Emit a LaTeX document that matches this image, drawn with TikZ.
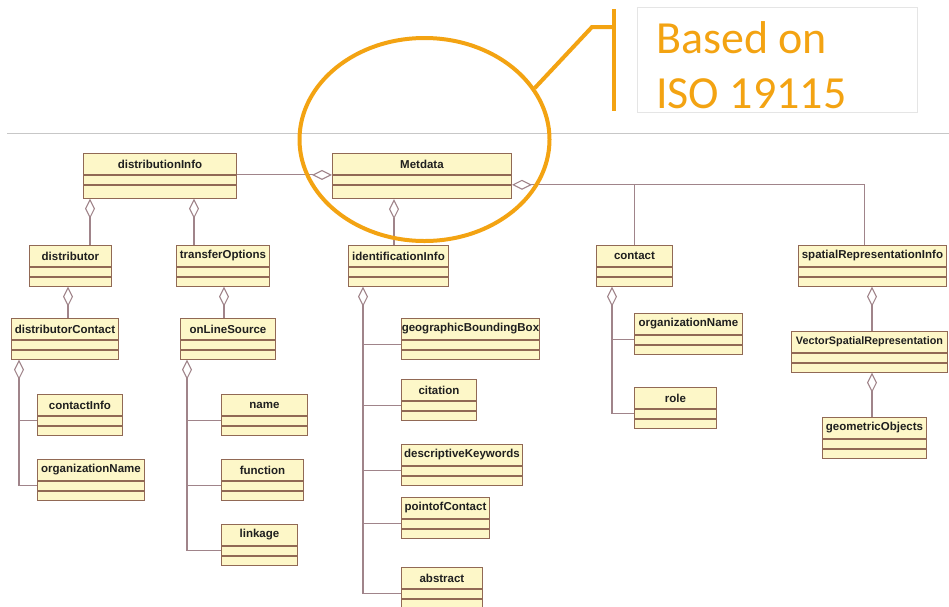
\documentclass[tikz,border=0pt]{standalone}
\usepackage{fontspec}
\setmainfont{Liberation Sans}
\newfontfamily\notefont{Carlito}
\usetikzlibrary{arrows.meta}
\usetikzlibrary{shapes.geometric}
\definecolor{clsfill}{RGB}{253,247,200}
\definecolor{clsline}{RGB}{145,105,85}
\definecolor{linkline}{RGB}{160,132,138}
\definecolor{isoorange}{RGB}{243,163,18}
\tikzset{cls/.style={draw=clsline,fill=clsfill,line width=0.9pt,inner sep=0pt,minimum height=21,text=black!88,font=\fontsize{11.5}{11.5}\selectfont\bfseries}}
\tikzset{clspart/.style={draw=clsline,fill=clsfill,line width=0.9pt,inner sep=0pt,minimum height=9}}
\tikzset{lnk/.style={draw=linkline,line width=1.1pt}}
\tikzset{agg/.style={lnk,{Diamond[open,length=20pt,width=10pt]}-}}
\tikzset{hlring/.style={draw=isoorange,line width=4pt,ellipse,inner sep=0pt}}
\tikzset{isotext/.style={font=\notefont\fontsize{46}{46}\selectfont,text=isoorange,inner sep=0pt,anchor=base west}}

% class box: [height of last part]{name}{left}{top}{right}{title}
\newcommand{\umlclass}[6][9]{%
  \node[cls,anchor=north west,minimum width=#5-#3] (#2) at (#3,#4) {#6};
  \node[clspart,anchor=north,minimum width=#5-#3] (#2-a) at (#2.south) {};
  \node[clspart,anchor=north,minimum width=#5-#3,minimum height=#1] (#2-b) at (#2-a.south) {};}

\begin{document}
\begin{tikzpicture}[x=1pt,y=-1pt]
  \useasboundingbox (0,0) rectangle (949,606);
  \clip (0,0) rectangle (949,606);
  \draw[black!22,line width=0.8pt] (7,133) -- (949,133);

  \umlclass[13]{dinfo}{83}{153}{236}{distributionInfo}
  \umlclass[13.5]{meta}{332}{153}{511}{Metdata}
  \umlclass{distr}{29}{245}{111}{distributor}
  \umlclass{transf}{176}{245}{269}{transferOptions}
  \umlclass{ident}{348}{245}{448}{identificationInfo}
  \umlclass{contact}{596}{245}{672}{contact}
  \umlclass{spatial}{798}{245}{946}{spatialRepresentationInfo}
  \umlclass{dcontact}{11}{318}{118}{distributorContact}
  \umlclass{online}{180}{318}{275}{onLineSource}
  \umlclass{geobb}{401}{318}{539}{geographicBoundingBox}
  \umlclass{orgr}{634}{313}{742}{organizationName}
  \umlclass{vsr}{791}{331}{947}{\fontsize{10.8}{10.8}\selectfont VectorSpatialRepresentation}
  \umlclass{cinfo}{37}{394}{122}{contactInfo}
  \umlclass{orgl}{37}{459}{144}{organizationName}
  \umlclass{oname}{221}{394}{307}{name}
  \umlclass{func}{221}{459}{303}{function}
  \umlclass{link}{221}{524}{297}{linkage}
  \umlclass{cit}{401}{379}{476}{citation}
  \umlclass{desc}{401}{444}{522}{descriptiveKeywords}
  \umlclass{poc}{401}{497}{489}{pointofContact}
  \umlclass{abs}{401}{567}{482}{abstract}
  \umlclass{role}{634}{387}{716}{role}
  \umlclass{geom}{822}{417}{926}{geometricObjects}

  % links at Metdata
  \draw[agg] (meta.south west) -- (dinfo.south east);
  \coordinate (sp-in) at ([xshift=-8pt]spatial.north);
  \draw[agg] (meta-a.south east) -| (sp-in);
  \draw[lnk] (contact.north) -- (contact.north |- meta-a.south east);

  \foreach \pa/\ch/\dx in {dinfo/distr/7,dinfo/transf/111,meta/ident/62,distr/dcontact/39,transf/online/48,spatial/vsr/74,vsr/geom/81}{
    \coordinate (d) at ([xshift=\dx pt]\pa-b.south west);
    \draw[agg] (d) -- (d |- \ch.north);
  }

  % trees
  \coordinate (dc-t) at ([xshift=8pt]dcontact-b.south west);
  \draw[agg] (dc-t) -- (dc-t |- orgl-a.west);
  \foreach \c in {cinfo,orgl} \draw[lnk] (dc-t |- \c-a.west) -- (\c-a.west);

  \coordinate (ol-t) at ([xshift=7pt]online-b.south west);
  \draw[agg] (ol-t) -- (ol-t |- link-a.west);
  \foreach \c in {oname,func,link} \draw[lnk] (ol-t |- \c-a.west) -- (\c-a.west);

  \coordinate (id-t) at ([xshift=15pt]ident-b.south west);
  \draw[agg] (id-t) -- (id-t |- abs-a.west);
  \foreach \c in {geobb,cit,desc,poc,abs} \draw[lnk] (id-t |- \c-a.west) -- (\c-a.west);

  \coordinate (ct-t) at ([xshift=16pt]contact-b.south west);
  \draw[agg] (ct-t) -- (ct-t |- role-a.west);
  \foreach \c in {orgr,role} \draw[lnk] (ct-t |- \c-a.west) -- (\c-a.west);

  % highlight and callout
  \node[hlring,minimum width=250,minimum height=203] (hl) at (424.5,139.5) {};
  \coordinate (kink) at (592,27);
  \coordinate (bar-t) at (614,9);
  \coordinate (bar-b) at (614,111);
  \draw[isoorange,line width=4pt] (hl.25) -- (kink) -- (kink -| bar-t);
  \draw[isoorange,line width=4pt] (bar-t) -- (bar-b);
  \node[draw=black!10,line width=0.6pt,anchor=north west,minimum width=280,minimum height=105,inner sep=0pt] (notebox) at (637,7) {};
  \node[isotext] (based) at (656,53) {Based on};
  \node[isotext] (iso) at (656,108) {ISO 19115};
\end{tikzpicture}
\end{document}
